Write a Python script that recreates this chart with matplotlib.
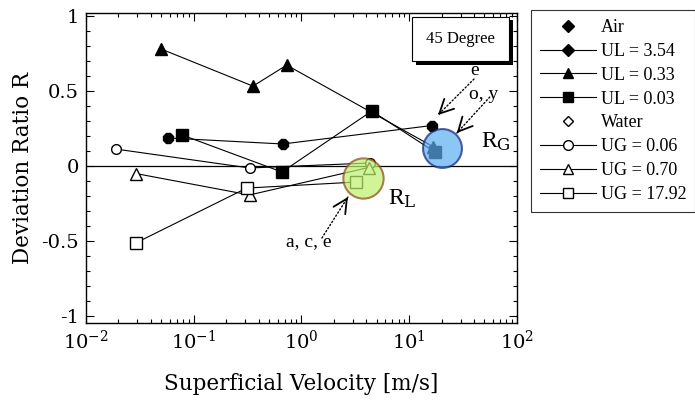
"""Deviation ratio R vs superficial velocity, 45 degree pipe."""

import numpy as np
import matplotlib
matplotlib.use("Agg")
import matplotlib.pyplot as plt
import matplotlib.patheffects as pe
from matplotlib.lines import Line2D
from matplotlib.ticker import FixedLocator, MultipleLocator, FuncFormatter

plt.rcParams["font.family"] = ["DejaVu Serif"]
plt.rcParams["mathtext.fontset"] = "dejavuserif"
TIMES = ["Liberation Serif", "DejaVu Serif"]

# Air series (filled markers), x = superficial gas velocity
ul354_x = [0.058, 0.67, 16.2]
ul354_y = [0.187, 0.147, 0.27]
ul033_x = [0.050, 0.355, 0.73, 16.6]
ul033_y = [0.78, 0.533, 0.673, 0.13]
ul003_x = [0.078, 0.66, 4.5, 17.4]
ul003_y = [0.207, -0.04, 0.367, 0.093]

# Water series (open markers), x = superficial liquid velocity
ug006_x = [0.019, 0.33, 4.3]
ug006_y = [0.113, -0.013, 0.02]
ug070_x = [0.029, 0.33, 4.2]
ug070_y = [-0.05, -0.193, -0.01]
ug1792_x = [0.029, 0.31, 3.2]
ug1792_y = [-0.513, -0.147, -0.107]

# highlighted regions R_G and R_L
rg_center = (20.0, 0.12)
rl_center = (3.7, -0.08)

fig = plt.figure(figsize=(6.95, 4.03), dpi=100)
ax = fig.add_axes([0.1237, 0.1985, 0.620, 0.769])

line_kw = dict(color="black", lw=0.8)
ax.axhline(0, color="black", lw=0.9, zorder=1)

ax.plot(ul354_x, ul354_y, marker="8", ms=7.5, mfc="black", mec="black", **line_kw)
ax.plot(ul033_x, ul033_y, marker="^", ms=9, mfc="black", mec="black", **line_kw)
ax.plot(ul003_x, ul003_y, marker="s", ms=9, mfc="black", mec="black", **line_kw)
ax.plot(ug006_x, ug006_y, marker="o", ms=7, mfc="white", mec="black", **line_kw)
ax.plot(ug070_x, ug070_y, marker="^", ms=9, mfc="white", mec="black", **line_kw)
ax.plot(ug1792_x, ug1792_y, marker="s", ms=9, mfc="white", mec="black", **line_kw)

ax.plot(*rg_center, marker="o", ms=28, mfc="#5caef0", mec="#12207a",
        mew=1.5, alpha=0.7, zorder=5)
ax.plot(*rl_center, marker="o", ms=29, mfc="#bdf06c", mec="#8a4a12",
        mew=1.5, alpha=0.7, zorder=5)

ax.set_xscale("log")
ax.set_xlim(0.01, 100)
ax.set_ylim(-1.047, 1.02)

# labels and dotted arrows
ax.text(40.8, 0.64, "e", fontsize=14, family=TIMES, ha="center", va="center")
ax.text(49.4, 0.48, "o, y", fontsize=14, family=TIMES, ha="center", va="center")
ax.text(46, 0.16, r"R$_{\rm G}$", fontsize=17, family=TIMES, ha="left", va="center")
ax.text(6.3, -0.215, r"R$_{\rm L}$", fontsize=17, family=TIMES, ha="left", va="center")
ax.text(1.18, -0.505, "a, c, e", fontsize=14, family=TIMES, ha="center", va="center")

arrows = [((40.0, 0.58), (18.5, 0.34)),
          ((56.0, 0.46), (27.7, 0.22)),
          ((1.55, -0.48), (2.7, -0.207))]
for tail, tip in arrows:
    ax.annotate("", xy=tip, xytext=tail,
                arrowprops=dict(arrowstyle="-", lw=1.0, ls=":", color="black",
                                shrinkA=0, shrinkB=0))
    d = ax.transData.transform(tip) - ax.transData.transform(tail)
    u = d / np.hypot(*d)
    ax.annotate("", xy=tip, xytext=(-u[0] * 2, -u[1] * 2), textcoords="offset points",
                arrowprops=dict(arrowstyle="->,head_length=1.0,head_width=0.5",
                                lw=1.3, color="black", shrinkA=0, shrinkB=0))

t = ax.text(0.87, 0.916, "45 Degree", transform=ax.transAxes, fontsize=12,
            family=TIMES, ha="center", va="center",
            bbox=dict(boxstyle="square,pad=0.85", fc="white", ec="black", lw=0.8))
t.get_bbox_patch().set_path_effects(
    [pe.SimplePatchShadow(offset=(2.5, -2.5), shadow_rgbFace="black", alpha=1),
     pe.Normal()])

ax.yaxis.set_major_locator(FixedLocator([-1, -0.5, 0, 0.5, 1]))
ax.yaxis.set_minor_locator(MultipleLocator(0.1))
ax.yaxis.set_major_formatter(FuncFormatter(lambda v, p: f"{v:g}"))
ax.tick_params(which="both", direction="in", top=True, right=True, labelsize=14)
ax.tick_params(which="major", length=6, width=0.8, pad=5)
ax.tick_params(which="minor", length=3, width=0.8)
for s in ax.spines.values():
    s.set_linewidth(1.0)

ax.set_xlabel("Superficial Velocity [m/s]", fontsize=15.5, labelpad=14)
ax.set_ylabel("Deviation Ratio R", fontsize=15.5, labelpad=5)

handles = [
    Line2D([], [], ls="none", marker="D", ms=6, mfc="black", mec="black"),
    Line2D([], [], marker="D", ms=6, mfc="black", mec="black", **line_kw),
    Line2D([], [], marker="^", ms=7, mfc="black", mec="black", **line_kw),
    Line2D([], [], marker="s", ms=7, mfc="black", mec="black", **line_kw),
    Line2D([], [], ls="none", marker="D", ms=5, mfc="white", mec="black"),
    Line2D([], [], marker="o", ms=7, mfc="white", mec="black", **line_kw),
    Line2D([], [], marker="^", ms=7, mfc="white", mec="black", **line_kw),
    Line2D([], [], marker="s", ms=7, mfc="white", mec="black", **line_kw),
]
labels = ["Air", "UL = 3.54", "UL = 0.33", "UL = 0.03",
          "Water", "UG = 0.06", "UG = 0.70", "UG = 17.92"]
leg = fig.legend(handles, labels, loc="upper left",
                 bbox_to_anchor=(531 / 695, 1 - 10 / 403),
                 prop={"family": TIMES, "size": 13},
                 handlelength=3.1, handletextpad=0.25, labelspacing=0.38,
                 borderpad=0.5, borderaxespad=0, fancybox=False, frameon=True)
leg.get_frame().set_edgecolor("black")
leg.get_frame().set_linewidth(0.8)

fig.savefig("out.png", dpi=100)
